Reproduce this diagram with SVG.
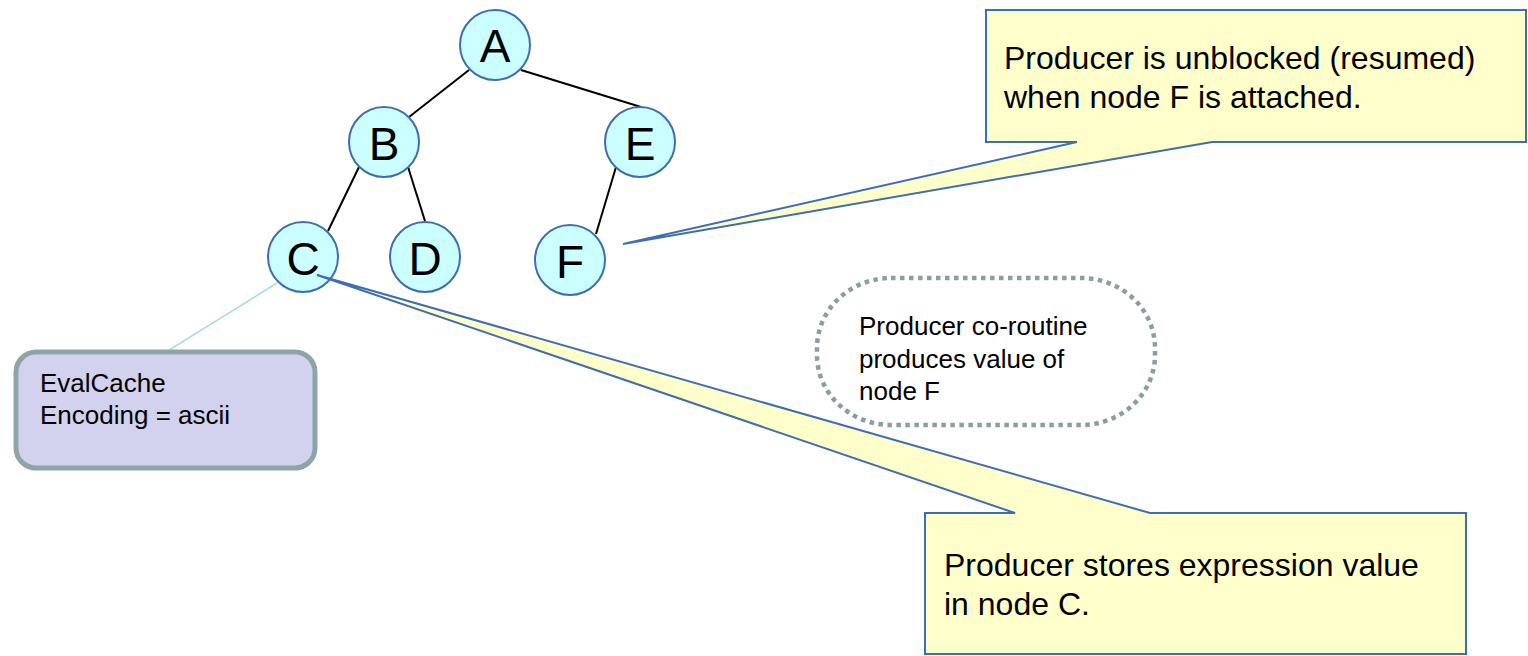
<svg xmlns="http://www.w3.org/2000/svg" width="1528" height="656" viewBox="0 0 1528 656">
  <style>
    .tree-node circle { fill: #ccffff; stroke: #3f6db0; stroke-width: 2; }
    .tree-node text { font-family: "Liberation Sans", Arial, sans-serif; font-size: 46px; fill: #000; text-anchor: middle; }
    .edge { stroke: #000; stroke-width: 2; fill: none; }
    .callout path { fill: #ffffcc; stroke: #3f6db0; stroke-width: 2; stroke-linejoin: miter; }
    .callout text { font-family: "Liberation Sans", Arial, sans-serif; font-size: 32px; fill: #000; }
    .note text { font-family: "Liberation Sans", Arial, sans-serif; fill: #000; }
  </style>

  <!-- tree edges -->
  <g id="connectors">
    <line class="edge" x1="469" y1="70" x2="409" y2="117"/>
    <line class="edge" x1="521" y1="70" x2="641" y2="107"/>
    <line class="edge" x1="359" y1="167" x2="328" y2="231"/>
    <line class="edge" x1="408" y1="167" x2="425" y2="221"/>
    <line class="edge" x1="616" y1="167" x2="596" y2="234"/>
    <line x1="166" y1="352" x2="277" y2="283" stroke="#a9dcdc" stroke-width="1.5"/>
  </g>

  <!-- tree nodes -->
  <g id="node-A" class="tree-node"><circle cx="495" cy="45" r="35"/><text x="495" y="62">A</text></g>
  <g id="node-B" class="tree-node"><circle cx="384" cy="142" r="35"/><text x="384" y="160">B</text></g>
  <g id="node-E" class="tree-node"><circle cx="640" cy="142" r="35"/><text x="640" y="160">E</text></g>
  <g id="node-C" class="tree-node"><circle cx="303" cy="257" r="35"/><text x="303" y="275">C</text></g>
  <g id="node-D" class="tree-node"><circle cx="425" cy="257" r="35"/><text x="425" y="275">D</text></g>
  <g id="node-F" class="tree-node"><circle cx="570" cy="260" r="35"/><text x="570" y="278">F</text></g>

  <!-- cache annotation on node C -->
  <g id="eval-cache" class="note">
    <rect x="16" y="352" width="299" height="116" rx="20" ry="20" fill="#d2d2ef" stroke="#8fa5a5" stroke-width="5"/>
    <text x="40" y="392" font-size="26">EvalCache</text>
    <text x="40" y="424" font-size="26">Encoding = ascii</text>
  </g>

  <!-- co-routine note -->
  <g id="coroutine-note" class="note">
    <rect x="817" y="278" width="338" height="147" rx="74" ry="70" fill="none" stroke="#8a9e9e" stroke-width="4.5" stroke-dasharray="4.5 4.5"/>
    <text x="859" y="335" font-size="26">Producer co-routine</text>
    <text x="859" y="368" font-size="26">produces value of</text>
    <text x="859" y="400" font-size="26">node F</text>
  </g>

  <!-- callout pointing at node F -->
  <g id="callout-resumed" class="callout">
    <path d="M986,10 L1526,10 L1526,142 L1212,142 L623,244 L1077,142 L986,142 Z"/>
    <text x="1004" y="69">Producer is unblocked (resumed)</text>
    <text x="1004" y="108">when node F is attached.</text>
  </g>

  <!-- callout pointing at node C -->
  <g id="callout-stores" class="callout">
    <path d="M925,513 L1015,513 L317,275 L1150,513 L1466,513 L1466,654 L925,654 Z"/>
    <text x="944" y="576">Producer stores expression value</text>
    <text x="944" y="615">in node C.</text>
  </g>
</svg>
